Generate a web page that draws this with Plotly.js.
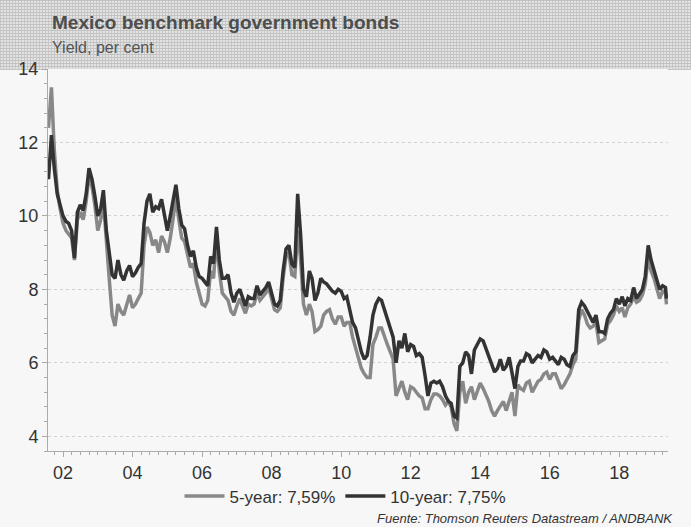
<!DOCTYPE html>
<html>
<head>
<meta charset="utf-8">
<script src="https://cdn.plot.ly/plotly-3.0.1.min.js"></script>
<style>
  html, body { margin: 0; padding: 0; background: #f7f7f7; }
  #wrap { position: relative; width: 691px; height: 527px; background: #f7f7f7; }
  #header {
    position: absolute; left: 0; top: 0; width: 691px; height: 70px;
    background-color: #e3e3e3;
    background-image:
      repeating-linear-gradient(0deg, #c2c2c2 0px, #c2c2c2 1px, transparent 1px, transparent 3px),
      repeating-linear-gradient(90deg, #c8c8c8 0px, #c8c8c8 1px, transparent 1px, transparent 3px);
  }
  #chart { position: absolute; left: 0; top: 0; width: 691px; height: 527px; }
</style>
</head>
<body>
<div id="wrap">
  <div id="header"></div>
  <div id="chart"></div>
</div>
<script>
// Monthly observation dates
const dates = [
  "2001-08","2001-09","2001-10","2001-11","2001-12",
  "2002-01","2002-02","2002-03","2002-04","2002-05","2002-06","2002-07","2002-08","2002-09","2002-10","2002-11","2002-12",
  "2003-01","2003-02","2003-03","2003-04","2003-05","2003-06","2003-07","2003-08","2003-09","2003-10","2003-11","2003-12",
  "2004-01","2004-02","2004-03","2004-04","2004-05","2004-06","2004-07","2004-08","2004-09","2004-10","2004-11","2004-12",
  "2005-01","2005-02","2005-03","2005-04","2005-05","2005-06","2005-07","2005-08","2005-09","2005-10","2005-11","2005-12",
  "2006-01","2006-02","2006-03","2006-04","2006-05","2006-06","2006-07","2006-08","2006-09","2006-10","2006-11","2006-12",
  "2007-01","2007-02","2007-03","2007-04","2007-05","2007-06","2007-07","2007-08","2007-09","2007-10","2007-11","2007-12",
  "2008-01","2008-02","2008-03","2008-04","2008-05","2008-06","2008-07","2008-08","2008-09","2008-10","2008-11","2008-12",
  "2009-01","2009-02","2009-03","2009-04","2009-05","2009-06","2009-07","2009-08","2009-09","2009-10","2009-11","2009-12",
  "2010-01","2010-02","2010-03","2010-04","2010-05","2010-06","2010-07","2010-08","2010-09","2010-10","2010-11","2010-12",
  "2011-01","2011-02","2011-03","2011-04","2011-05","2011-06","2011-07","2011-08","2011-09","2011-10","2011-11","2011-12",
  "2012-01","2012-02","2012-03","2012-04","2012-05","2012-06","2012-07","2012-08","2012-09","2012-10","2012-11","2012-12",
  "2013-01","2013-02","2013-03","2013-04","2013-05","2013-06","2013-07","2013-08","2013-09","2013-10","2013-11","2013-12",
  "2014-01","2014-02","2014-03","2014-04","2014-05","2014-06","2014-07","2014-08","2014-09","2014-10","2014-11","2014-12",
  "2015-01","2015-02","2015-03","2015-04","2015-05","2015-06","2015-07","2015-08","2015-09","2015-10","2015-11","2015-12",
  "2016-01","2016-02","2016-03","2016-04","2016-05","2016-06","2016-07","2016-08","2016-09","2016-10","2016-11","2016-12",
  "2017-01","2017-02","2017-03","2017-04","2017-05","2017-06","2017-07","2017-08","2017-09","2017-10","2017-11","2017-12",
  "2018-01","2018-02","2018-03","2018-04","2018-05","2018-06","2018-07","2018-08","2018-09","2018-10","2018-11","2018-12",
  "2019-01","2019-02","2019-03","2019-04","2019-05","2019-05-12"
];

// 5-year benchmark yield, per cent
const yield5y = [
  12.4, 13.5, 11.8, 10.7, 10.2,
  9.8, 9.6, 9.5, 9.4, 8.8, 9.9, 10.1, 9.9, 10.4, 11.1, 10.8, 10.3,
  9.6, 9.9, 10.4, 9.2, 8.3, 7.3, 7.0, 7.6, 7.4, 7.3, 7.6, 7.85,
  7.5, 7.6, 7.75, 7.9, 9.2, 9.7, 9.55, 9.2, 9.35, 9.0, 9.45, 9.3,
  9.0, 9.4, 9.9, 10.5, 9.9, 9.4, 9.3, 8.9, 8.6, 8.7, 8.2, 7.9,
  7.6, 7.55, 7.7, 8.5, 8.3, 9.4, 8.5, 7.9, 7.8, 7.7, 7.4, 7.3,
  7.55, 7.75, 7.55, 7.35, 7.6, 7.55, 7.6, 7.9, 7.7, 7.8, 7.9, 8.05,
  7.75, 7.45, 7.4, 7.5, 8.3, 8.9, 9.0, 8.4, 8.35, 9.6, 8.8, 7.6,
  7.3, 7.6, 7.4, 6.85, 6.9, 7.0, 7.3, 7.4, 7.45, 7.2, 7.05, 7.25,
  7.25, 7.0, 7.1, 7.1, 6.7, 6.4, 6.1, 5.85, 5.7, 5.6, 5.6, 6.5,
  6.7, 6.95, 6.95, 6.7, 6.5, 6.3, 6.1, 5.1, 5.3, 5.5, 5.2, 5.0,
  5.35, 5.3, 5.2, 5.1, 5.05, 4.75, 4.75, 5.0, 5.15, 5.15, 5.1, 5.0,
  4.85, 4.95, 4.8, 4.35, 4.15, 5.2, 5.5, 4.9, 5.2, 5.35, 5.0, 5.2,
  5.45, 5.3, 5.15, 4.95, 4.7, 4.55, 4.7, 4.85, 4.95, 4.7, 5.0, 5.2,
  4.55, 5.4, 5.3, 5.25, 5.45, 5.5, 5.2, 5.35, 5.5, 5.55, 5.7, 5.75,
  5.55, 5.7, 5.7, 5.5, 5.3, 5.4, 5.55, 5.7, 5.95, 6.1, 7.15, 7.45,
  7.3, 7.05, 6.95, 7.0, 7.1, 6.55, 6.6, 6.65, 7.05, 7.15, 7.3, 7.55,
  7.4, 7.5, 7.25, 7.5, 7.6, 7.8, 7.65, 7.7, 7.85, 8.15, 8.9, 8.5,
  8.3, 8.0, 7.75, 7.95, 7.9, 7.59
];

// 10-year benchmark yield, per cent
const yield10y = [
  11.0, 12.2, 11.3, 10.6, 10.3,
  10.0, 9.85, 9.8, 9.6, 8.85, 10.1, 10.3, 10.15, 10.6, 11.3, 11.0, 10.55,
  10.0, 10.2, 10.7, 9.6, 9.0, 8.4, 8.3, 8.8, 8.4, 8.25, 8.5, 8.65,
  8.35, 8.45, 8.6, 8.7, 9.8, 10.4, 10.6, 10.1, 10.25, 10.2, 10.45, 10.0,
  9.6, 10.0, 10.4, 10.85, 10.2, 9.75, 9.65, 9.2, 8.9, 9.05, 8.6, 8.35,
  8.3, 8.2, 8.1, 8.9, 8.7, 9.7, 8.8, 8.3, 8.3, 8.4, 7.9, 7.65,
  7.9, 8.0, 7.8, 7.55, 7.8, 7.75, 7.75, 8.1, 7.85, 7.95, 8.05, 8.2,
  7.9, 7.6, 7.55, 7.7, 8.5, 9.1, 9.2, 8.7, 8.6, 10.6, 9.5, 8.0,
  7.8, 8.5, 8.3, 7.7, 7.9, 8.3, 8.2, 8.15, 8.05, 7.95, 7.9, 8.0,
  7.95, 7.75, 7.8, 7.4, 7.1, 6.95, 6.65, 6.3, 6.1, 6.2, 6.7, 7.3,
  7.6, 7.75, 7.7, 7.45, 7.15, 6.9, 6.7, 6.0, 6.6, 6.4, 6.8, 6.3,
  6.5, 6.45, 6.2, 6.25, 6.15, 5.65, 5.1, 5.45, 5.5, 5.45, 5.5, 5.35,
  5.1, 4.95, 4.9, 4.55, 4.5, 5.9, 6.0, 6.3, 6.2, 5.7, 6.35, 6.5,
  6.65, 6.6, 6.4, 6.2, 6.0, 5.75, 5.85, 6.1, 5.8, 5.9, 6.15, 5.75,
  5.3, 5.9, 6.05, 6.05, 6.25, 6.2, 6.0, 6.1, 6.2, 6.15, 6.35, 6.3,
  6.1, 6.15, 6.05, 5.95, 6.15, 6.1, 5.95, 5.9, 6.2, 6.3, 7.45, 7.65,
  7.55, 7.4, 7.25, 7.1, 7.3, 6.85, 6.85, 6.8, 7.2, 7.35, 7.45, 7.75,
  7.6, 7.8, 7.55, 7.75, 7.7, 8.05, 7.75, 7.9, 8.0, 8.35, 9.2, 8.8,
  8.55, 8.25, 8.0, 8.1, 8.05, 7.75
];

const seriesNames = ["5-year: 7,59%", "10-year: 7,75%"];
const yTicks = [4, 6, 8, 10, 12, 14];

const traces = [
  { x: dates, y: yield5y, name: seriesNames[0], type: "scatter", mode: "lines",
    line: { color: "#888888", width: 3.5 } },
  { x: dates, y: yield10y, name: seriesNames[1], type: "scatter", mode: "lines",
    line: { color: "#333333", width: 3.5 } }
];

const font = "Liberation Sans, Arial, sans-serif";

const layout = {
  width: 691, height: 527,
  margin: { l: 48, r: 23, t: 69, b: 76, autoexpand: false },
  paper_bgcolor: "rgba(0,0,0,0)",
  plot_bgcolor: "#f7f7f7",
  font: { family: font, color: "#333333", size: 17 },
  showlegend: true,
  legend: {
    orientation: "h", xref: "container", yref: "container",
    x: 0.5, xanchor: "center", y: 0.092, yanchor: "top",
    font: { family: font, size: 17, color: "#333333" },
    bgcolor: "rgba(0,0,0,0)", itemwidth: 40, tracegroupgap: 0
  },
  xaxis: {
    type: "date", automargin: false,
    range: ["2001-07-27", "2019-05-28"],
    tickvals: ["2002-01-01","2004-01-01","2006-01-01","2008-01-01","2010-01-01","2012-01-01","2014-01-01","2016-01-01","2018-01-01"],
    tickformat: "%y",
    ticks: "outside", ticklen: 5, tickcolor: "#aaaaaa",
    showline: true, linecolor: "#aaaaaa", linewidth: 1,
    showgrid: false, zeroline: false,
    tickfont: { family: font, size: 18, color: "#333333" },
    minor: { dtick: "M3", tick0: "2002-01-01", ticks: "outside", ticklen: 3, tickcolor: "#aaaaaa", showgrid: false }
  },
  yaxis: {
    range: [3.6, 14], automargin: false,
    tickvals: yTicks,
    ticks: "outside", ticklen: 5, tickcolor: "#aaaaaa",
    showline: true, linecolor: "#aaaaaa", linewidth: 1,
    showgrid: true, gridcolor: "#d2d2d2", griddash: "dot", gridwidth: 1,
    zeroline: false,
    tickfont: { family: font, size: 18, color: "#333333" },
    minor: { dtick: 0.4, tick0: 4, ticks: "outside", ticklen: 3, tickcolor: "#aaaaaa", showgrid: false }
  },
  annotations: [
    { text: "<b>Mexico benchmark government bonds</b>", xref: "paper", yref: "paper",
      x: 0.003, y: 1.123, xanchor: "left", yanchor: "middle", showarrow: false,
      font: { family: font, size: 19, color: "#4d4d4d" } },
    { text: "Yield, per cent", xref: "paper", yref: "paper",
      x: 0.003, y: 1.055, xanchor: "left", yanchor: "middle", showarrow: false,
      font: { family: font, size: 16, color: "#555555" } },
    { text: "<i>Fuente: Thomson Reuters Datastream / ANDBANK</i>", xref: "paper", yref: "paper",
      x: 1.011, y: -0.178, xanchor: "right", yanchor: "middle", showarrow: false,
      font: { family: font, size: 13, color: "#333333" } }
  ]
};

Plotly.newPlot("chart", traces, layout, { displayModeBar: false, staticPlot: true });
</script>
</body>
</html>
